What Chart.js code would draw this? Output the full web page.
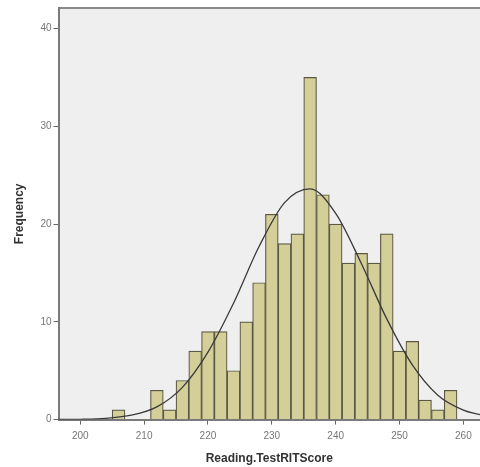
<!DOCTYPE html>
<html>
<head>
<meta charset="utf-8">
<script src="https://cdn.jsdelivr.net/npm/chart.js@4.4.1/dist/chart.umd.min.js"></script>
<style>
  body { margin: 0; background: #fff; }
  #wrap { width: 480px; height: 467px; position: relative; }
</style>
</head>
<body>
<div id="wrap"><canvas id="hist"></canvas></div>
<script>
// histogram bins (left edge of each 2-point bin) and counts
var binStarts = [205, 207, 209, 211, 213, 215, 217, 219, 221, 223, 225, 227, 229,
                 231, 233, 235, 237, 239, 241, 243, 245, 247, 249, 251, 253, 255, 257];
var counts    = [1, 0, 0, 3, 1, 4, 7, 9, 9, 5, 10, 14, 21,
                 18, 19, 35, 23, 20, 16, 17, 16, 19, 7, 8, 2, 1, 3];
var binWidth = 2;

// normal curve
var curveX = [196.6, 200, 204, 208, 212, 216, 220, 224, 228, 232, 236, 240, 244, 248, 252, 256, 260, 262.6];
var curveY = [0.01, 0.03, 0.13, 0.45, 1.3, 3.3, 6.9, 11.9, 17.7, 22.2, 23.6, 21.1, 16.0, 10.3, 5.6, 2.5, 0.97, 0.5];

var xTicks = [200, 210, 220, 230, 240, 250, 260];
var yTicks = [0, 10, 20, 30, 40];

var barData = binStarts.map(function (s, i) { return { x: s + binWidth / 2, y: counts[i] }; });
var lineData = curveX.map(function (x, i) { return { x: x, y: curveY[i] }; });

var plotBg = {
    id: 'plotBg',
    beforeDraw: function (chart) {
        var a = chart.chartArea, ctx = chart.ctx;
        ctx.save();
        ctx.fillStyle = '#efefef';
        ctx.fillRect(a.left, a.top, a.right - a.left, a.bottom - a.top);
        ctx.strokeStyle = '#8a8a8a';
        ctx.lineWidth = 2;
        ctx.beginPath();
        ctx.moveTo(a.left, a.top);
        ctx.lineTo(a.right, a.top);
        ctx.stroke();
        ctx.restore();
    }
};

var tickFont = { family: 'Liberation Sans, Arial, sans-serif', size: 10 };
var titleFont = { family: 'Liberation Sans, Arial, sans-serif', size: 12, weight: 'bold' };

new Chart(document.getElementById('hist').getContext('2d'), {
    type: 'bar',
    data: {
        datasets: [{
            type: 'line',
            data: lineData,
            borderColor: '#3a3a3a',
            borderWidth: 1.3,
            pointRadius: 0,
            cubicInterpolationMode: 'monotone',
            fill: false,
            order: 0
        }, {
            type: 'bar',
            data: barData,
            backgroundColor: '#d4cf98',
            borderColor: '#5a5843',
            borderWidth: 1.2,
            borderSkipped: 'bottom',
            barPercentage: 1,
            categoryPercentage: 1,
            order: 1
        }]
    },
    options: {
        responsive: true,
        maintainAspectRatio: false,
        animation: false,
        layout: { padding: { left: 12, right: 0, top: 5, bottom: 1 } },
        plugins: { legend: { display: false }, tooltip: { enabled: false } },
        scales: {
            x: {
                type: 'linear',
                min: 196.6,
                max: 262.6,
                offset: false,
                afterBuildTicks: function (axis) {
                    axis.ticks = xTicks.map(function (v) { return { value: v }; });
                },
                ticks: { font: tickFont, color: '#777', padding: 6, includeBounds: false },
                grid: { offset: false, drawOnChartArea: false, drawTicks: true, tickLength: 5, color: '#666' },
                border: { display: true, color: '#7a7a7a', width: 2 },
                title: { display: true, text: 'Reading.TestRITScore', font: titleFont, color: '#333', padding: { top: 3, bottom: 0 } }
            },
            y: {
                min: 0,
                max: 42.1,
                afterBuildTicks: function (axis) {
                    axis.ticks = yTicks.map(function (v) { return { value: v }; });
                },
                ticks: { font: tickFont, color: '#777', padding: 2, includeBounds: false },
                grid: { drawOnChartArea: false, drawTicks: true, tickLength: 5, color: '#666' },
                border: { display: true, color: '#7a7a7a', width: 2 },
                title: { display: true, text: 'Frequency', font: titleFont, color: '#333', padding: { top: 0, bottom: 12 } }
            }
        }
    },
    plugins: [plotBg]
});
</script>
</body>
</html>
